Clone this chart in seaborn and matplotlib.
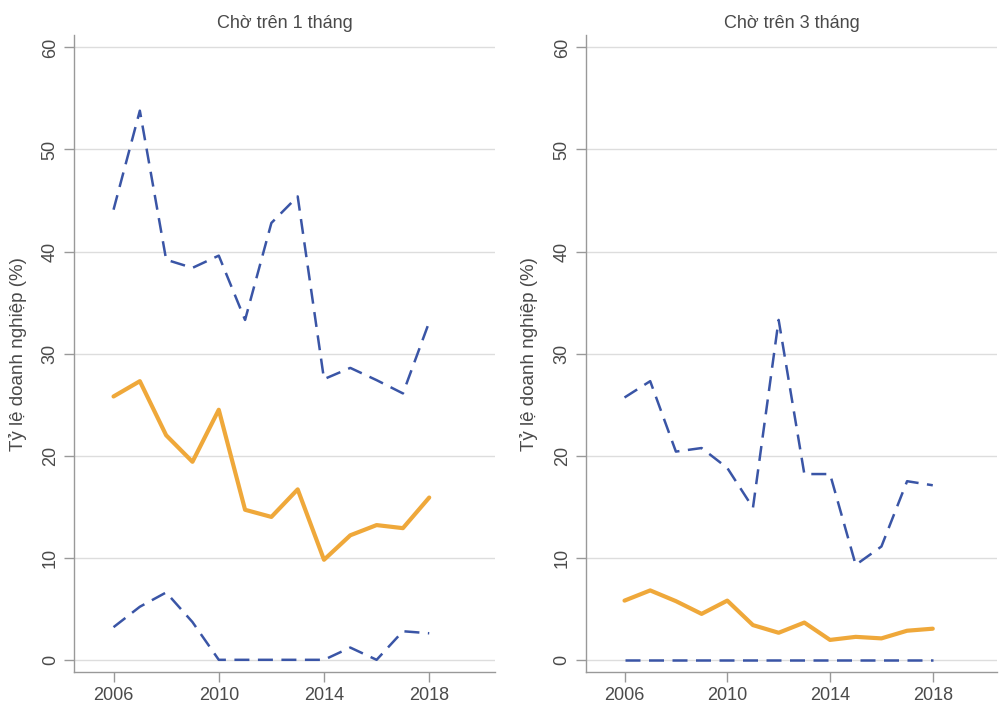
import matplotlib
matplotlib.use('Agg')
import matplotlib.pyplot as plt
import seaborn as sns
import pandas as pd

# ── Data ──────────────────────────────────────────────────────
years = list(range(2006, 2019))

# Chờ trên 1 tháng
m1_mean  = [25.8, 27.3, 22.0, 19.4, 24.5, 14.7, 14.0, 16.7, 9.8, 12.2, 13.2, 12.9, 15.9]
m1_upper = [44.1, 53.8, 39.2, 38.4, 39.6, 33.3, 42.8, 45.4, 27.5, 28.6, 27.4, 26.1, 33.1]
m1_lower = [3.2, 5.2, 6.6, 3.7, 0.0, 0.0, 0.0, 0.0, 0.0, 1.2, 0.0, 2.8, 2.6]

# Chờ trên 3 tháng
m3_mean  = [5.8, 6.8, 5.75, 4.5, 5.8, 3.4, 2.65, 3.65, 1.95, 2.25, 2.1, 2.85, 3.05]
m3_upper = [25.7, 27.3, 20.4, 20.75, 18.8, 14.9, 33.3, 18.2, 18.2, 9.3, 11.1, 17.5, 17.1]
m3_lower = [0.0] * 13

titles  = ["Chờ trên 1 tháng", "Chờ trên 3 tháng"]
y_label = "Tỷ lệ doanh nghiệp (%)"
x_ticks = [2006, 2010, 2014, 2018]
y_ticks = [0, 10, 20, 30, 40, 50, 60]

ORANGE = "#EFA83A"
BLUE   = "#3A55A6"
GREY   = "#4A4A4A"
DASH   = (0, (6.0, 3.4))

sns.set_style("white")
plt.rcParams['font.family'] = ['Liberation Sans', 'DejaVu Sans']

fig = plt.figure(figsize=(10.01, 7.03), dpi=100)
axes = [fig.add_axes([0.074, 0.044, 0.4205, 0.906]),
        fig.add_axes([0.5854, 0.044, 0.4106, 0.906])]

panels = [(m1_mean, m1_upper, m1_lower), (m3_mean, m3_upper, m3_lower)]

for ax, title, (mean, upper, lower) in zip(axes, titles, panels):
    df = pd.DataFrame({"year": years, "mean": mean, "upper": upper, "lower": lower})
    sns.lineplot(data=df, x="year", y="upper", ax=ax, color=BLUE, lw=1.8, linestyle=DASH)
    sns.lineplot(data=df, x="year", y="lower", ax=ax, color=BLUE, lw=1.8, linestyle=DASH)
    sns.lineplot(data=df, x="year", y="mean", ax=ax, color=ORANGE, lw=3.0)

    ax.set_xlim(2004.5, 2020.5)
    ax.set_ylim(-1.2, 61.2)
    ax.set_xticks(x_ticks)
    ax.set_yticks(y_ticks)
    ax.set_xticklabels([str(t) for t in x_ticks], fontsize=13, color=GREY)
    ax.set_yticklabels([str(t) for t in y_ticks], fontsize=13, color=GREY,
                       rotation=90, va='center')
    ax.grid(axis='y', color='#DDDDDD', lw=1)
    ax.grid(axis='x', visible=False)
    ax.set_axisbelow(True)
    ax.tick_params(axis='both', direction='out', length=7, width=1,
                   color='#999999', bottom=True, left=True, pad=4)
    for side in ['top', 'right']:
        ax.spines[side].set_visible(False)
    for side in ['left', 'bottom']:
        ax.spines[side].set_color('#999999')
        ax.spines[side].set_linewidth(1)
    ax.set_title(title, fontsize=13, color=GREY, pad=5)
    ax.set_xlabel("")
    ax.set_ylabel(y_label, fontsize=13.5, color=GREY, labelpad=11)

fig.savefig("out.png", dpi=100)
plt.close()
